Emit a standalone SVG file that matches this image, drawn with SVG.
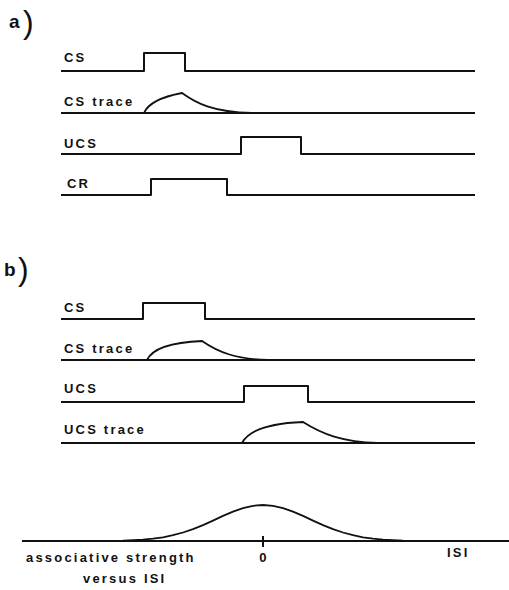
<svg xmlns="http://www.w3.org/2000/svg" width="509" height="590" viewBox="0 0 509 590">
<style>
.ln{fill:none;stroke:#111;stroke-width:2;stroke-linejoin:round;stroke-linecap:butt}
.cv{fill:none;stroke:#111;stroke-width:1.8}
.lb{font-family:"Liberation Sans",Arial,sans-serif;font-weight:bold;font-size:13px;letter-spacing:2.2px;fill:#111}
.pl{font-family:"Liberation Sans",Arial,sans-serif;font-weight:bold;font-size:19px;fill:#111}
.pr{font-family:"Liberation Sans",Arial,sans-serif;font-size:32px;fill:#111}
</style>
<rect width="509" height="590" fill="#fff"/>
<g id="panel-a-label"><text class="pl" x="9" y="28">a</text><text class="pr" x="23" y="33">)</text></g>
<g id="a-cs"><text class="lb" x="64" y="62">CS</text><path class="ln" d="M61,71 H144 V53 H185 V71 H475"/></g>
<g id="a-cstrace"><text class="lb" x="64" y="106">CS trace</text><path class="ln" d="M61,113 H475"/><path class="cv" d="M144,113 Q150,99 182,93 C196,103 212,112 252,113"/></g>
<g id="a-ucs"><text class="lb" x="64" y="148">UCS</text><path class="ln" d="M61,154 H241 V137 H301 V154 H475"/></g>
<g id="a-cr"><text class="lb" x="67" y="188">CR</text><path class="ln" d="M61,195 H151 V179 H227 V195 H475"/></g>
<g id="panel-b-label"><text class="pl" x="4" y="276">b</text><text class="pr" x="18" y="280">)</text></g>
<g id="b-cs"><text class="lb" x="64" y="312">CS</text><path class="ln" d="M61,319 H143 V303 H205 V319 H475"/></g>
<g id="b-cstrace"><text class="lb" x="64" y="353">CS trace</text><path class="ln" d="M61,360 H475"/><path class="cv" d="M147,360 Q155,343 202,341 C218,352 235,359 268,360"/></g>
<g id="b-ucs"><text class="lb" x="64" y="393">UCS</text><path class="ln" d="M61,402 H244 V386 H308 V402 H475"/></g>
<g id="b-ucstrace"><text class="lb" x="64" y="434">UCS trace</text><path class="ln" d="M61,443 H475"/><path class="cv" d="M242,443 Q252,424 303,422 C322,434 342,442 378,443"/></g>
<g id="isi-plot">
<path class="ln" d="M22,541 H509 M263,536 V547"/>
<polyline class="cv" points="123,540.6 133,540.2 143,539.6 153,538.7 163,537.3 173,535.2 183,532.5 193,529.1 203,525.1 213,520.6 223,515.9 233,511.6 243,508.1 253,505.8 263,505 273,505.8 283,508.1 293,511.6 303,515.9 313,520.6 323,525.1 333,529.1 343,532.5 353,535.2 363,537.3 373,538.7 383,539.6 393,540.2 403,540.6"/>
<text class="lb" x="26" y="562">associative strength</text>
<text class="lb" x="83" y="583">versus ISI</text>
<text class="lb" x="264" y="562" text-anchor="middle">0</text>
<text class="lb" x="447" y="557">ISI</text>
</g>
</svg>
